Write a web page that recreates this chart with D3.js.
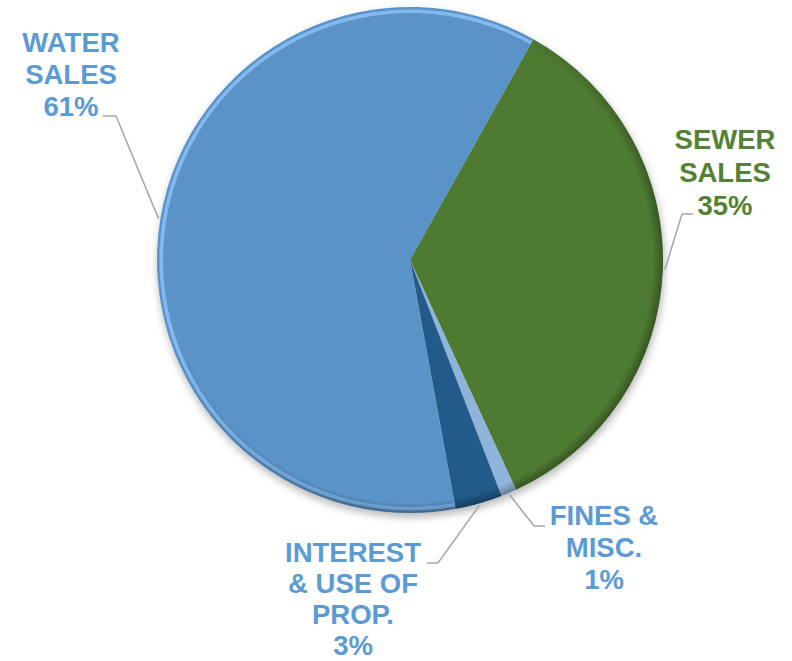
<!DOCTYPE html>
<html>
<head>
<meta charset="utf-8">
<script src="https://cdn.jsdelivr.net/npm/d3@7/dist/d3.min.js"></script>
<style>
  html, body { margin: 0; padding: 0; background: #ffffff; }
  svg { display: block; }
  text { font-family: "Liberation Sans", Arial, sans-serif; font-weight: bold; }
</style>
</head>
<body>
<svg id="chart" width="792" height="661"></svg>
<script>
// ---- data ----
const categories = ["SEWER SALES", "FINES & MISC.", "INTEREST & USE OF PROP.", "WATER SALES"];
const values = [35, 1, 3, 61];
const labelLines = [
  ["SEWER", "SALES", "35%"],
  ["FINES &", "MISC.", "1%"],
  ["INTEREST", "& USE OF", "PROP.", "3%"],
  ["WATER", "SALES", "61%"]
];

// ---- layout / style ----
const W = 792, H = 661;
const cx = 410, cy = 260, R = 253;
const startDeg = 29.2;
const sliceColors = ["#507a32", "#8fb4da", "#245a8a", "#5a93c8"];
const labelColors = ["#548235", "#5b9bd5", "#5b9bd5", "#5b9bd5"];
const labelLayout = [
  { x: 725, y: 149, lh: 33, hook: [[693, 214], [682, 214]] },
  { x: 604, y: 525, lh: 32, hook: [[545, 526], [534, 526]] },
  { x: 353, y: 562, lh: 31, hook: [[427, 563], [438, 563]] },
  { x: 71,  y: 52,  lh: 32, hook: [[103, 116], [116, 116]] }
];

const svg = d3.select("#chart");
const defs = svg.append("defs");

const shadow = defs.append("filter").attr("id", "shadow")
  .attr("x", "-20%").attr("y", "-20%").attr("width", "140%").attr("height", "140%");
shadow.append("feGaussianBlur").attr("in", "SourceAlpha").attr("stdDeviation", 4).attr("result", "b");
shadow.append("feOffset").attr("in", "b").attr("dx", 1).attr("dy", 4).attr("result", "o");
shadow.append("feComponentTransfer").attr("in", "o").attr("result", "s")
  .append("feFuncA").attr("type", "linear").attr("slope", 0.3);
const merge = shadow.append("feMerge");
merge.append("feMergeNode").attr("in", "s");
merge.append("feMergeNode").attr("in", "SourceGraphic");

// rim shading: dark toward lower-right, none upper-left
const rim = defs.append("radialGradient").attr("id", "rim")
  .attr("gradientUnits", "userSpaceOnUse").attr("cx", cx).attr("cy", cy).attr("r", R);
rim.append("stop").attr("offset", "0%").attr("stop-color", "#000").attr("stop-opacity", 0);
rim.append("stop").attr("offset", "96%").attr("stop-color", "#000").attr("stop-opacity", 0);
rim.append("stop").attr("offset", "100%").attr("stop-color", "#000").attr("stop-opacity", 0.3);
const dir = defs.append("linearGradient").attr("id", "dirMask")
  .attr("x1", "0").attr("y1", "0").attr("x2", "1").attr("y2", "1");
dir.append("stop").attr("offset", "35%").attr("stop-color", "#fff").attr("stop-opacity", 0);
dir.append("stop").attr("offset", "70%").attr("stop-color", "#fff").attr("stop-opacity", 1);
defs.append("mask").attr("id", "rimMask").attr("maskContentUnits", "userSpaceOnUse")
  .append("rect").attr("x", cx - R).attr("y", cy - R).attr("width", 2 * R).attr("height", 2 * R)
  .attr("fill", "url(#dirMask)");

const pie = d3.pie().sort(null).value(d => d)
  .startAngle(startDeg * Math.PI / 180)
  .endAngle(startDeg * Math.PI / 180 + 2 * Math.PI);
const arcs = pie(values);
const arc = d3.arc().innerRadius(0).outerRadius(R);
const rimArc = d3.arc().innerRadius(R - 6).outerRadius(R - 2.5);

const pieG = svg.append("g").attr("filter", "url(#shadow)");
const g = pieG.append("g").attr("transform", `translate(${cx},${cy})`);
g.selectAll("path.slice").data(arcs).enter().append("path")
  .attr("class", "slice")
  .attr("d", arc)
  .attr("fill", (d, i) => sliceColors[i]);

// light bevel highlight on the water slice's upper-left edge
const hl = defs.append("linearGradient").attr("id", "hlGrad")
  .attr("gradientUnits", "userSpaceOnUse")
  .attr("x1", cx - R).attr("y1", cy - R).attr("x2", cx).attr("y2", cy + R);
hl.append("stop").attr("offset", "30%").attr("stop-color", "#8cc4fa").attr("stop-opacity", 0.8);
hl.append("stop").attr("offset", "75%").attr("stop-color", "#8cc4fa").attr("stop-opacity", 0);
svg.append("path")
  .attr("transform", `translate(${cx},${cy})`)
  .attr("d", rimArc(arcs[3]))
  .attr("fill", "url(#hlGrad)");
svg.append("circle").attr("cx", cx).attr("cy", cy).attr("r", R)
  .attr("fill", "url(#rim)").attr("mask", "url(#rimMask)");

// leader lines
arcs.forEach((d, i) => {
  const mid = (d.startAngle + d.endAngle) / 2;
  const px = cx + (R + 2) * Math.sin(mid);
  const py = cy - (R + 2) * Math.cos(mid);
  const pts = [labelLayout[i].hook[0], labelLayout[i].hook[1], [px, py]];
  svg.append("path")
    .attr("d", d3.line()(pts))
    .attr("fill", "none")
    .attr("stroke", "#a6a6a6")
    .attr("stroke-width", 1.5);
});

// labels
labelLines.forEach((lines, i) => {
  const L = labelLayout[i];
  const t = svg.append("text")
    .attr("text-anchor", "middle")
    .attr("fill", labelColors[i])
    .attr("font-size", 27.5);
  lines.forEach((ln, j) => {
    t.append("tspan").attr("x", L.x).attr("y", L.y + j * L.lh).text(ln);
  });
});
</script>
</body>
</html>
